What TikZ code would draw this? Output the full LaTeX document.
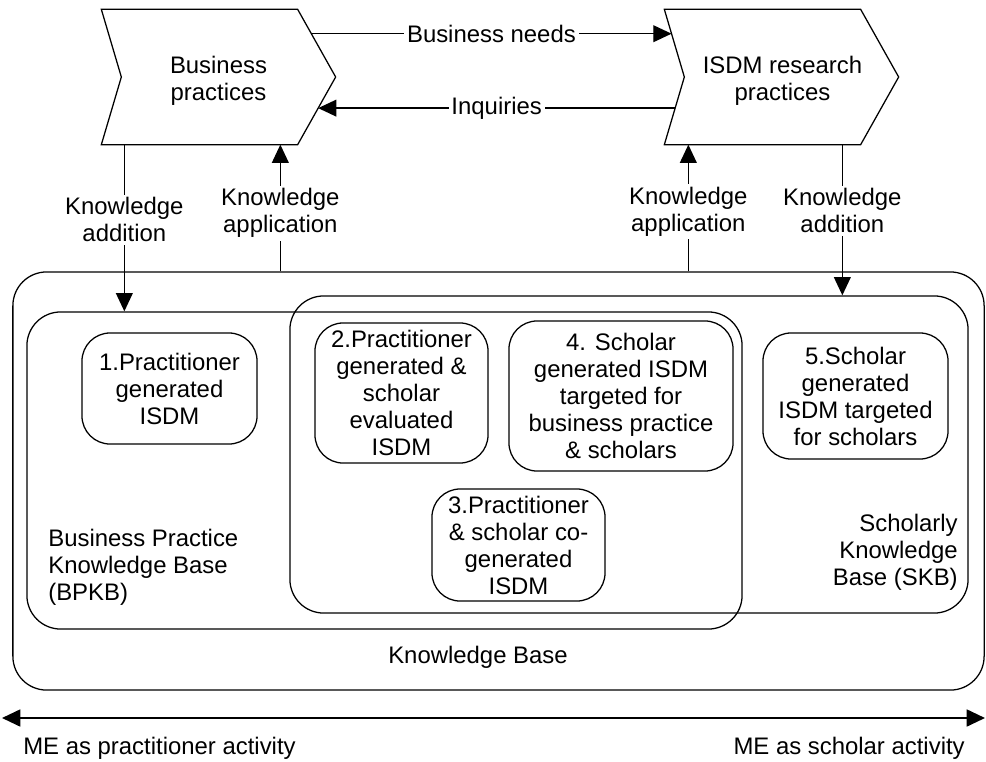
\documentclass[tikz,border=0pt]{standalone}
\usepackage{fontspec}
\setmainfont{Liberation Sans}
\usetikzlibrary{calc,arrows.meta,positioning}

\tikzset{
  every node/.style={font=\fontsize{17}{19.2}\selectfont},
  arr/.style={-{Triangle[length=13pt,width=12pt]}},
  lbl/.style={align=center,fill=white,inner sep=2pt},
  chev/.style={minimum width=4.875cm,minimum height=3.35cm,inner sep=0},
  region/.style={draw,rounded corners=24pt,inner sep=0},
  isdm/.style={draw,rounded corners=20pt,align=center,inner sep=0}
}

\begin{document}
\begin{tikzpicture}[x=0.025cm,y=-0.025cm,line width=0.9pt]
\useasboundingbox (0,0) rectangle (986,762);

% draw Business practices
\node[chev] (bp) at (199.5,77) {};
\coordinate (bp tip) at ($(bp.east)+(38,0)$);
\coordinate (bp notch) at ($(bp.west)+(20,0)$);
\draw (bp.north west) -- (bp.north east) -- (bp tip) -- (bp.south east) -- (bp.south west) -- (bp notch) -- cycle;
\node[align=center] at ($(bp.center)+(19,4)$) {Business\\practices};

% draw ISDM research practices
\node[chev] (res) at (762.5,77) {};
\coordinate (res tip) at ($(res.east)+(38,0)$);
\coordinate (res notch) at ($(res.west)+(20,0)$);
\draw (res.north west) -- (res.north east) -- (res tip) -- (res.south east) -- (res.south west) -- (res notch) -- cycle;
\node[align=center] at ($(res.center)+(20,4)$) {ISDM research\\practices};

% draw needs and inquiries
\draw[arr] ($(bp.north east)!.36!(bp tip)$) -- node[lbl]{Business needs} ($(res.north west)!.36!(res notch)$);
\draw[arr] ($(res notch)!.46!(res.south west)$) -- node[lbl]{Inquiries} ($(bp tip)!.46!(bp.south east)$);

% draw knowledge bases
\node[region,minimum width=24.275cm,minimum height=10.45cm] (kb) at (498.5,481) {};
\node[region,minimum width=17.875cm,minimum height=7.925cm] (bpkb) at (384.5,470.5) {};
\node[region,minimum width=16.95cm,minimum height=7.925cm] (skb) at (629,454.5) {};

\node at (478,657) {Knowledge Base};
\node[anchor=west,align=left] at (43,567) {Business Practice\\Knowledge Base\\(BPKB)};
\node[anchor=east,align=right] at (963,552) {Scholarly\\Knowledge\\Base (SKB)};

% draw ISDM kinds
\node[isdm,minimum width=4.375cm,minimum height=2.775cm] (m1) at (169.5,388.5) {1.Practitioner\\generated\\ISDM};
\node[isdm,minimum width=4.325cm,minimum height=3.5cm] (m2) at (401.5,393) {2.Practitioner\\generated \&\\scholar\\evaluated\\ISDM};
\node[isdm,minimum width=4.325cm,minimum height=2.8cm] (m3) at (518.5,545) {3.Practitioner\\\& scholar co-\\generated\\ISDM};
\node[isdm,minimum width=5.6cm,minimum height=3.75cm] (m4) at (621,396) {4. Scholar\\generated ISDM\\targeted for\\business practice\\\& scholars};
\node[isdm,minimum width=4.625cm,minimum height=3.15cm] (m5) at (855.5,396) {5.Scholar\\generated\\ISDM targeted\\for scholars};

% draw knowledge flows
\coordinate (add1) at ($(bp.south west)+(23,0)$);
\coordinate (app1) at ($(bp.south west)+(179,0)$);
\coordinate (app2) at ($(res.south west)+(24,0)$);
\coordinate (add2) at ($(res.south west)+(178,0)$);
\draw[arr] (add1) -- node[lbl,pos=.45]{Knowledge\\addition} (add1 |- bpkb.north);
\draw[arr] (app1 |- kb.north) -- node[lbl,pos=.46]{Knowledge\\application} (app1);
\draw[arr] (app2 |- kb.north) -- node[lbl,pos=.47]{Knowledge\\application} (app2);
\draw[arr] (add2) -- node[lbl,pos=.44]{Knowledge\\addition} (add2 |- skb.north);

% draw ME axis
\coordinate (pract) at (2,718);
\coordinate (schol) at (985,718);
\draw[line width=1.5pt,{Triangle[length=13pt,width=12pt]}-{Triangle[length=13pt,width=12pt]}] (pract) -- (schol);
\node[anchor=west] (mepract) at (18,748) {ME as practitioner activity};
\node[anchor=east] (meschol) at (970,748) {ME as scholar activity};

\end{tikzpicture}
\end{document}
